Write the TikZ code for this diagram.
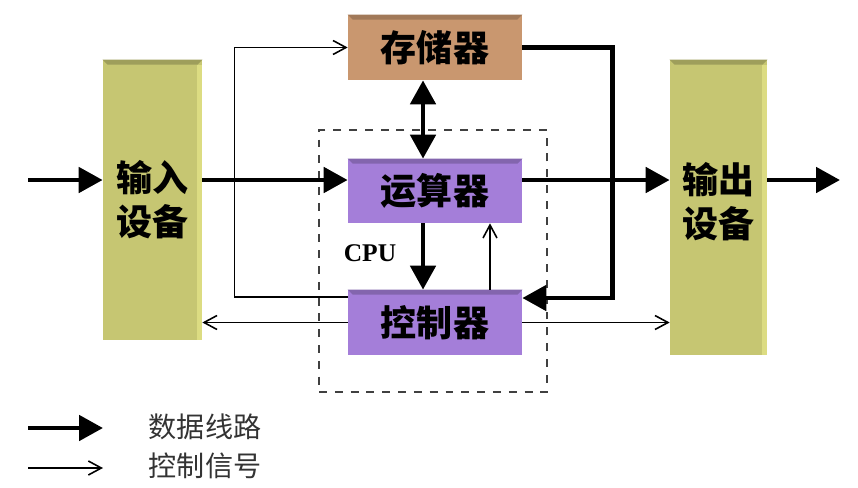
\documentclass[tikz,border=0pt]{standalone}
\usepackage{fontspec}
\newfontfamily\cjk{Noto Sans CJK SC}
\newfontfamily\cpufont{Liberation Serif}
\usetikzlibrary{arrows.meta, positioning, calc}
\definecolor{devcol}{RGB}{198,198,114}
\definecolor{devedge}{RGB}{220,220,130}
\definecolor{memcol}{RGB}{201,151,111}
\definecolor{cpucol}{RGB}{164,126,217}
\tikzset{
  unit/.style={inner sep=0pt, align=center, font=\cjk\bfseries\fontsize{20.5}{25}\selectfont},
  data/.style={line width=2.8pt, -{Triangle[length=4.8mm,width=5mm]}},
  ctl/.style={line width=0.9pt, -{Straight Barb[length=2.6mm,width=2.8mm]}},
  legend/.style={font=\cjk\fontsize{16}{18}\selectfont, text=black!80}
}

\begin{document}
\begin{tikzpicture}[x=0.02cm, y=-0.02cm]
    \useasboundingbox (0,0) rectangle (858,487);
    \node[unit, fill=devcol, minimum width=1.98cm, minimum height=5.6cm] (in) at (152.5,200) {输入\\设备};
    \node[unit, fill=devcol, minimum width=1.94cm, minimum height=5.9cm, text depth=0.3cm] (out) at (718.5,207.5) {输出\\设备};
    \node[unit, fill=memcol, minimum width=3.48cm, minimum height=1.3cm] (mem) at (435,47.5) {存储器};
    \node[unit, fill=cpucol, minimum width=3.48cm, minimum height=1.28cm] (alu) at (435,191) {运算器};
    \node[unit, fill=cpucol, minimum width=3.48cm, minimum height=1.3cm] (ctrl) at (435,322.5) {控制器};
    \foreach \n/\c in {in/devcol, out/devcol, mem/memcol, alu/cpucol, ctrl/cpucol}
        \fill[\c!80!black] (\n.north west) -- (\n.north east) -- ++(-5,5) -- ($(\n.north west)+(5,5)$) -- cycle;
    \foreach \n in {in, out}
        \fill[devedge] ($(\n.north east)+(-5,5)$) rectangle (\n.south east);
    \node[draw=black!75, line width=1.1pt, dash pattern=on 4.5pt off 4.5pt,
          minimum width=4.56cm, minimum height=5.24cm] (cpu) at (433,261) {};
    \node[font=\cpufont\bfseries\fontsize{14.5}{16}\selectfont] (cpulbl) at (370,253) {CPU};

    \coordinate (src) at (28,180);
    \coordinate (dst) at (840,180);
    \draw[data] (src) -- (src -| in.west);
    \draw[data] (src -| in.east) -- (src -| alu.west);
    \draw[data] (src -| alu.east) -- (src -| out.west);
    \draw[data] (src -| out.east) -- (dst);
    \draw[data, {Triangle[length=4.8mm,width=5mm]}-{Triangle[length=4.8mm,width=5mm]}]
        ([xshift=-0.24cm]mem.south) -- ([xshift=-0.24cm]alu.north);
    \draw[data] ([xshift=-0.24cm]alu.south) -- ([xshift=-0.24cm]ctrl.north);
    \draw[data] (mem.east) -- ++(90,0) |- ([yshift=0.49cm]ctrl.east);

    \draw[ctl] ([yshift=0.51cm]ctrl.west) -- ++(-113,0) |- (mem.west);
    \draw[ctl] (ctrl.west) -- (ctrl.west -| in.east);
    \draw[ctl] (ctrl.east) -- (ctrl.east -| out.west);
    \draw[ctl] ([xshift=1.1cm]ctrl.north) -- ([xshift=1.1cm]alu.south);

    \coordinate (d1) at (28,428);
    \coordinate (d2) at (103,428);
    \coordinate (c1) at (28,468);
    \coordinate (c2) at (103,468);
    \draw[data] (d1) -- (d2);
    \draw[ctl] (c1) -- (c2);
    \node[legend] (dlbl) at (205,427) {数据线路};
    \node[legend] (clbl) at (205,466) {控制信号};
\end{tikzpicture}
\end{document}
